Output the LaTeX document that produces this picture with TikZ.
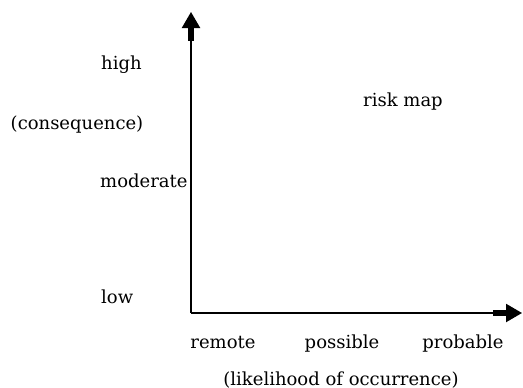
\documentclass[tikz,border=0pt]{standalone}
\usepackage{fontspec}
\setmainfont{DejaVu Serif}
\usetikzlibrary{arrows.meta}

\begin{document}
\begin{tikzpicture}[
		x=1pt,y=-1pt,
		axis/.style = {line width=2.2pt, -{Rectangle[length=13pt,width=5.5pt]Triangle[length=16pt,width=18pt]}},
		lbl/.style = {inner sep=0pt, font=\fontsize{18}{20}\selectfont}
	]
	\useasboundingbox (0,0) rectangle (523,388);
	\coordinate (orig) at (191,313);
	\coordinate (ytip) at (191,12);
	\coordinate (xtip) at (522,313);
	\node (high) [lbl, anchor=base west] at (101,70) {high};
	\node (conseq) [lbl, anchor=base] at (77,129) {(consequence)};
	\node (moderate) [lbl, anchor=base west] at (100,187) {moderate};
	\node (low) [lbl, anchor=base west] at (101,303) {low};
	\node (remote) [lbl, anchor=base] at (223,348) {remote};
	\node (possible) [lbl, anchor=base] at (342,348) {possible};
	\node (probable) [lbl, anchor=base] at (463,348) {probable};
	\node (likelihood) [lbl, anchor=base] at (341,385) {(likelihood of occurrence)};
	\node (riskmap) [lbl, anchor=base] at (403,106) {risk map};

	\path [axis] (orig) edge (ytip);
	\path [axis] (orig) edge (xtip);
\end{tikzpicture}
\end{document}
